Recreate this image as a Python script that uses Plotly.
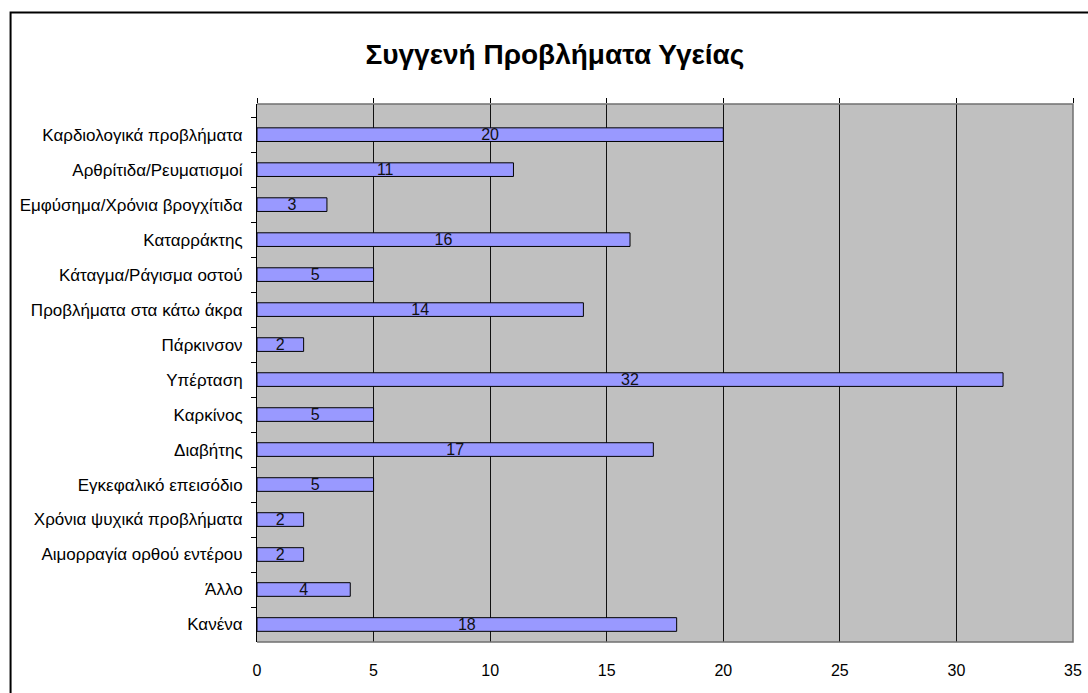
import plotly.graph_objects as go

categories = ["Καρδιολογικά προβλήματα", "Αρθρίτιδα/Ρευματισμοί", "Εμφύσημα/Χρόνια βρογχίτιδα",
              "Καταρράκτης", "Κάταγμα/Ράγισμα οστού", "Προβλήματα στα κάτω άκρα", "Πάρκινσον",
              "Υπέρταση", "Καρκίνος", "Διαβήτης", "Εγκεφαλικό επεισόδιο", "Χρόνια ψυχικά προβλήματα",
              "Αιμορραγία ορθού εντέρου", "Άλλο", "Κανένα"]
values = [20, 11, 3, 16, 5, 14, 2, 32, 5, 17, 5, 2, 2, 4, 18]
x_ticks = [0, 5, 10, 15, 20, 25, 30, 35]
title = "Συγγενή Προβλήματα Υγείας"

FONT = "Liberation Sans, Arial, sans-serif"

fig = go.Figure()
fig.add_trace(go.Bar(
    y=categories, x=values, orientation="h",
    marker=dict(color="#9999FF", line=dict(color="black", width=1)),
    text=[str(v) for v in values], textposition="inside", insidetextanchor="middle",
    textangle=0, constraintext="none",
    textfont=dict(family=FONT, size=16, color="#111111"),
    hoverinfo="skip",
))
# invisible trace to carry the top tick axis
fig.add_trace(go.Scatter(x=[x_ticks[0], x_ticks[-1]], y=[categories[0], categories[0]],
                         xaxis="x2", mode="markers", marker=dict(opacity=0),
                         hoverinfo="skip", showlegend=False))

fig.update_layout(
    width=1088, height=693,
    margin=dict(l=257, r=15, t=104, b=51, autoexpand=False),
    paper_bgcolor="white", plot_bgcolor="#C0C0C0",
    showlegend=False, bargap=0.61,
    font=dict(family=FONT, color="black"),
    title=dict(text="<b>" + title + "</b>", x=0.51, xref="container", xanchor="center",
               y=0.922, yref="container", yanchor="middle",
               font=dict(family=FONT, size=28, color="black")),
    xaxis=dict(range=[x_ticks[0], x_ticks[-1]], tickvals=x_ticks, showgrid=True,
               gridcolor="#111111", gridwidth=1.3, zeroline=False, ticks="",
               tickfont=dict(family=FONT, size=16, color="black"),
               ticklabelstandoff=17, showline=False, automargin=False),
    xaxis2=dict(range=[x_ticks[0], x_ticks[-1]], tickvals=x_ticks, overlaying="x", side="top",
                showticklabels=False, ticks="outside", ticklen=5, tickcolor="black",
                tickwidth=1, showgrid=False, zeroline=False, showline=False, automargin=False),
    yaxis=dict(autorange="reversed", type="category", tickson="boundaries",
               ticks="outside", ticklen=5, tickcolor="black", showgrid=False,
               showline=True, linecolor="black", linewidth=1,
               tickfont=dict(family=FONT, size=17, color="black"),
               ticklabelstandoff=10, automargin=False),
    shapes=[
        dict(type="path", xref="paper", yref="paper", path="M 0,1 L 1,1 L 1,0 L 0,0",
             line=dict(color="#707070", width=1.5), layer="above"),
        dict(type="rect", xref="paper", yref="paper", x0=-0.302, x1=1.2, y0=-0.3, y1=1.17,
             line=dict(color="black", width=2), fillcolor="rgba(0,0,0,0)", layer="above"),
    ],
)

fig.write_html("out.html")
